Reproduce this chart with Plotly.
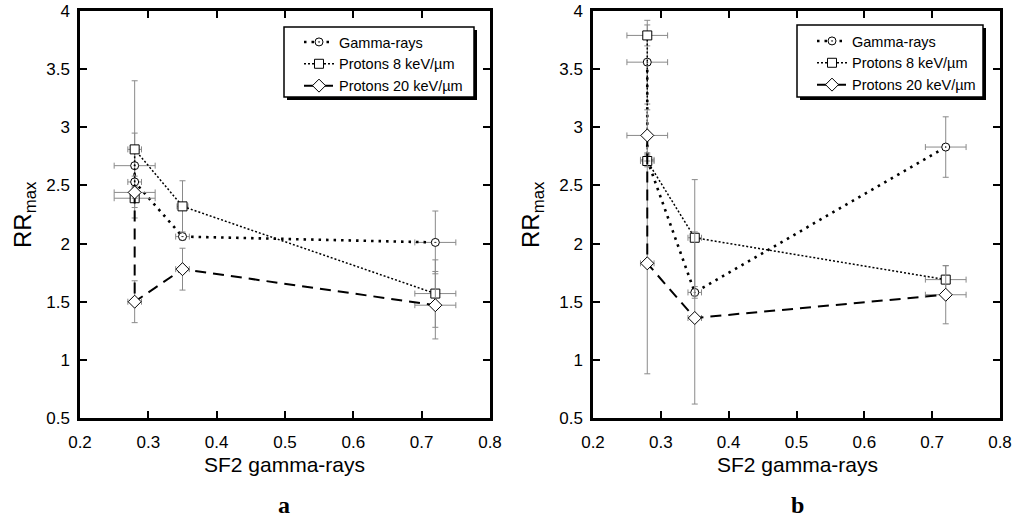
import plotly.graph_objects as go

W, H = 1017, 518
ML, MR, MT, MB = 0, 0, 11, 100

# ---------------- data ----------------
sf2 = [0.28, 0.28, 0.35, 0.72]

# panel a
gamma_a = [2.67, 2.53, 2.06, 2.01]
gamma_a_ex = [0.03, 0.01, 0.01, 0.03]
gamma_a_ey = [0.28, 0.05, 0.03, 0.27]
p8_a = [2.39, 2.81, 2.32, 1.57]
p8_a_ex = [0.03, 0.01, 0.008, 0.03]
p8_a_ey = [0.08, 0.59, 0.22, 0.29]
p20_a = [2.44, 1.50, 1.78, 1.47]
p20_a_ex = [0.03, 0.01, 0.01, 0.03]
p20_a_ey = [0.05, 0.18, 0.18, 0.29]

# panel b
gamma_b = [3.56, 2.72, 1.58, 2.83]
gamma_b_ex = [0.03, 0.01, 0.01, 0.03]
gamma_b_ey = [0.36, 0.05, 0.05, 0.26]
p8_b = [3.79, 2.71, 2.05, 1.69]
p8_b_ex = [0.03, 0.01, 0.01, 0.03]
p8_b_ey = [0.09, 0.05, 0.50, 0.12]
p20_b = [2.93, 1.83, 1.36, 1.56]
p20_b_ex = [0.03, 0.01, 0.01, 0.03]
p20_b_ey = [0.22, 0.95, 0.74, 0.25]

names = ["Gamma-rays", "Protons 8 keV/µm", "Protons 20 keV/µm"]
x_ticks = [0.2, 0.3, 0.4, 0.5, 0.6, 0.7, 0.8]
y_ticks = [0.5, 1, 1.5, 2, 2.5, 3, 3.5, 4]

# ---------------- styles ----------------
FONT = "Liberation Sans, Arial, sans-serif"
ERRC = "#8a8a8a"
styles = [
    dict(line=dict(color="black", width=2.6, dash="2.5px,5px"),
         marker=dict(symbol="circle-dot", size=8, color="white",
                     line=dict(color="black", width=1))),
    dict(line=dict(color="black", width=1.5, dash="2px,2px"),
         marker=dict(symbol="square", size=9, color="white",
                     line=dict(color="black", width=1))),
    dict(line=dict(color="black", width=2, dash="11px,7px"),
         marker=dict(symbol="diamond", size=10, color="white",
                     line=dict(color="black", width=1))),
]

fig = go.Figure()

panels = [
    ("x", "y", "legend",
     [(gamma_a, gamma_a_ex, gamma_a_ey), (p8_a, p8_a_ex, p8_a_ey), (p20_a, p20_a_ex, p20_a_ey)]),
    ("x2", "y2", "legend2",
     [(gamma_b, gamma_b_ex, gamma_b_ey), (p8_b, p8_b_ex, p8_b_ey), (p20_b, p20_b_ex, p20_b_ey)]),
]

for xa, ya, leg, series in panels:
    for i, (vals, ex, ey) in enumerate(series):
        fig.add_trace(go.Scatter(
            x=sf2, y=vals, name=names[i], mode="lines+markers",
            xaxis=xa, yaxis=ya, legend=leg,
            line=styles[i]["line"], marker=styles[i]["marker"],
            error_x=dict(type="data", array=ex, color=ERRC, thickness=1, width=3),
            error_y=dict(type="data", array=ey, color=ERRC, thickness=1, width=3),
        ))

def px_x(p):
    return (p - ML) / (W - ML - MR)

def px_y(p):
    return (H - MB - p) / (H - MT - MB)

axis_common = dict(
    range=[0.2, 0.8], tickvals=x_ticks, showgrid=False, zeroline=False,
    showline=True, linecolor="black", linewidth=2.5, mirror="ticks",
    ticks="inside", ticklen=7, tickwidth=1.5, tickcolor="black",
    tickfont=dict(family=FONT, size=17, color="black"),
    automargin=False, ticklabelstandoff=7,
)
yaxis_common = dict(
    range=[0.5, 4], tickvals=y_ticks, showgrid=False, zeroline=False,
    showline=True, linecolor="black", linewidth=2.5, mirror="ticks",
    ticks="inside", ticklen=7, tickwidth=1.5, tickcolor="black",
    tickfont=dict(family=FONT, size=17, color="black"),
    automargin=False, ticklabelstandoff=4,
)

legend_common = dict(
    bgcolor="rgba(0,0,0,0)", borderwidth=0,
    font=dict(family=FONT, size=14.5, color="black"),
    xanchor="left", yanchor="top", tracegroupgap=0, itemwidth=30,
)

fig.update_layout(
    width=W, height=H,
    margin=dict(l=ML, r=MR, t=MT, b=MB, autoexpand=False),
    paper_bgcolor="white", plot_bgcolor="white",
    xaxis=dict(domain=[px_x(80), px_x(490)], anchor="y", **axis_common),
    yaxis=dict(domain=[0, 1], anchor="x", **yaxis_common),
    xaxis2=dict(domain=[px_x(593), px_x(1000)], anchor="y2", **axis_common),
    yaxis2=dict(domain=[0, 1], anchor="x2", **yaxis_common),
    legend=dict(x=px_x(299), y=px_y(26), **legend_common),
    legend2=dict(x=px_x(812), y=px_y(25), **legend_common),
    showlegend=True,
)

# legend frames with drop shadow
for (l, t, r, b) in [(284, 27, 474, 97), (797, 25, 983, 97)]:
    fig.add_shape(type="rect", xref="paper", yref="paper",
                  x0=px_x(l + 3), x1=px_x(r + 3), y0=px_y(b + 3), y1=px_y(t + 3),
                  fillcolor="black", line=dict(width=0), layer="above")
    fig.add_shape(type="rect", xref="paper", yref="paper",
                  x0=px_x(l), x1=px_x(r), y0=px_y(b), y1=px_y(t),
                  fillcolor="white", line=dict(color="black", width=1.5), layer="above")

# axis titles and panel labels
for cx, lab in [(284, "a"), (797, "b")]:
    fig.add_annotation(text="SF2 gamma-rays", x=px_x(cx), y=px_y(464), xref="paper", yref="paper",
                       showarrow=False, xanchor="center", yanchor="middle",
                       font=dict(family=FONT, size=21, color="black"))
    fig.add_annotation(text="<b>" + lab + "</b>", x=px_x(cx), y=px_y(505), xref="paper", yref="paper",
                       showarrow=False, xanchor="center", yanchor="middle",
                       font=dict(family="Liberation Serif, Times New Roman, serif", size=24, color="black"))

for cx in [25, 533]:
    fig.add_annotation(text="RR<sub>max</sub>", x=px_x(cx), y=px_y(215), xref="paper", yref="paper",
                       showarrow=False, xanchor="center", yanchor="middle", textangle=-90,
                       font=dict(family=FONT, size=24, color="black"))

fig.write_html(
    "out.html",
    config={"displayModeBar": False},
    post_script="document.body.style.margin='0';document.body.style.padding='0';"
                "document.body.style.overflow='hidden';",
)
